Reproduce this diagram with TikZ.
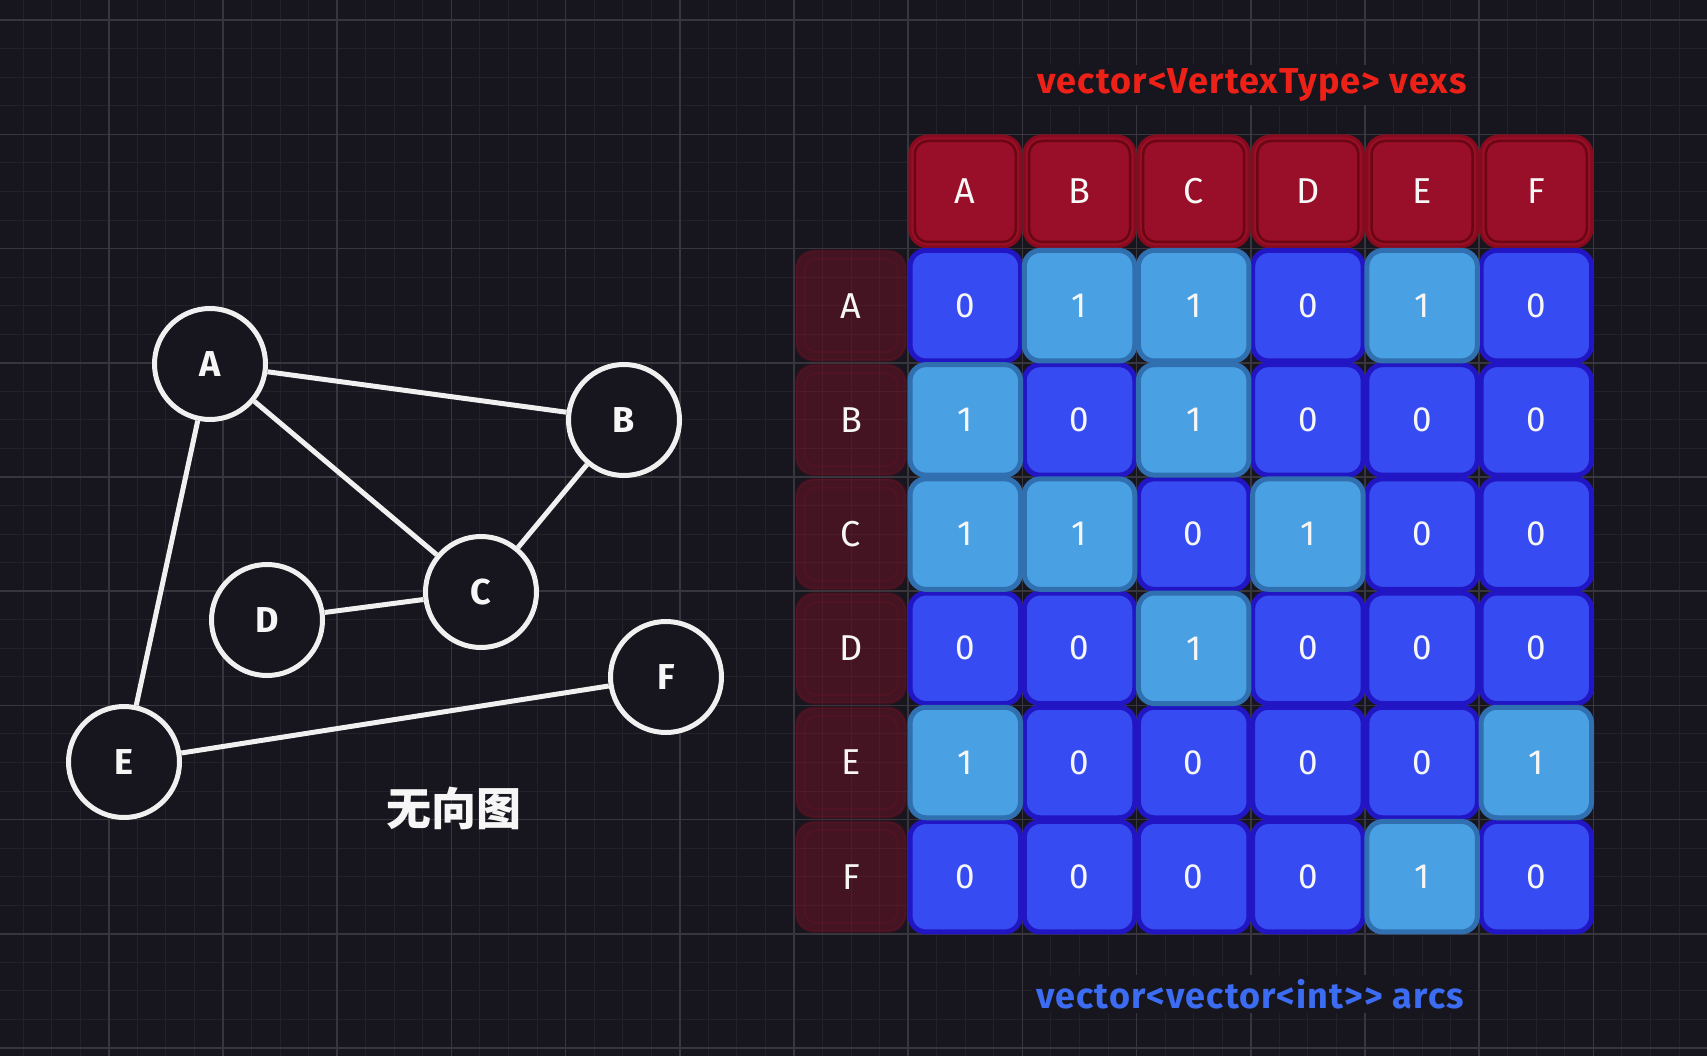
\documentclass[tikz,border=0pt]{standalone}
\usepackage{fontspec}
\setmainfont{Fira Sans}
\newfontfamily\cjk{Noto Sans CJK SC}
\newfontfamily\titlefont{Fira Sans}[LetterSpace=3]
\definecolor{bg}{HTML}{17151D}
\definecolor{minorgrid}{HTML}{232129}
\definecolor{majorgrid}{HTML}{38363D}
\definecolor{edgecol}{HTML}{F0F0F0}
\definecolor{txt}{HTML}{F6F6F6}
\definecolor{hdrfill}{HTML}{990E28}
\definecolor{hdrrim}{HTML}{860B1D}
\definecolor{hdrline}{HTML}{6A0712}
\definecolor{rowfill}{HTML}{C01230}
\definecolor{zerofill}{HTML}{364CF2}
\definecolor{zeroline}{HTML}{2216C4}
\definecolor{onefill}{HTML}{49A0E3}
\definecolor{oneline}{HTML}{3070B0}
\definecolor{redtitle}{HTML}{EE2118}
\definecolor{bluetitle}{HTML}{3B6CF2}
\begin{document}
\begin{tikzpicture}[x=1pt,y=-1pt,
  vertex/.style={circle,draw=edgecol,line width=5pt,fill=bg,minimum size=111pt,inner sep=0pt,
    text=txt,font=\bfseries\fontsize{36}{36}\selectfont},
  edge/.style={draw=edgecol,line width=5pt},
  hdrcell/.style={rectangle,rounded corners=18pt,draw=hdrrim,line width=3pt,fill=hdrfill,
    minimum size=111pt,inner sep=0pt,text=txt,font=\fontsize{36}{36}\selectfont},
  hdrinner/.style={draw=hdrline,line width=2.5pt,rounded corners=13pt},
  rowcell/.style={rectangle,rounded corners=18pt,draw=rowfill,draw opacity=0.12,line width=3pt,
    fill=rowfill,fill opacity=0.27,text opacity=1,minimum size=110pt,inner sep=0pt,text=txt,
    font=\fontsize{36}{36}\selectfont},
  rowinner/.style={draw=rowfill,draw opacity=0.1,line width=2pt,rounded corners=12pt},
  cell0/.style={rectangle,rounded corners=16pt,draw=zeroline,line width=5pt,fill=zerofill,
    minimum size=110.5pt,inner sep=0pt,text=txt,font=\fontsize{35}{35}\selectfont},
  cell1/.style={cell0,draw=oneline,fill=onefill},
  title/.style={fill=bg,inner xsep=4pt,inner ysep=4pt,font=\titlefont\bfseries\fontsize{36}{36}\selectfont}
]
\fill[bg] (0,0) rectangle (1707,1056);
\useasboundingbox (0,0) rectangle (1707,1056);
% grid
\foreach \i in {0,...,60}{
  \draw[minorgrid,line width=1pt] ({-5.4+28.55*\i},0) -- ++(0,1056);
}
\foreach \i in {0,...,37}{
  \draw[minorgrid,line width=1pt] (0,{20.2-28.55+28.55*\i}) -- ++(1707,0);
}
\foreach \i in {0,...,15}{
  \draw[majorgrid,line width=1.5pt] ({-5.4+114.2*\i},0) -- ++(0,1056);
}
\foreach \i in {0,...,9}{
  \draw[majorgrid,line width=1.5pt] (0,{20.2+114.2*\i}) -- ++(1707,0);
}
% graph
\node[vertex] (A) at (210,364) {A};
\node[vertex] (B) at (624,420) {B};
\node[vertex] (C) at (481,592) {C};
\node[vertex] (D) at (267,620) {D};
\node[vertex] (E) at (124,762) {E};
\node[vertex] (F) at (666,677) {F};
\draw[edge] (A) -- (B);
\draw[edge] (A) -- (C);
\draw[edge] (A) -- (E);
\draw[edge] (B) -- (C);
\draw[edge] (C) -- (D);
\draw[edge] (E) -- (F);
\node[text=txt,font=\cjk\bfseries\fontsize{45}{45}\selectfont] (gtitle) at (454,808) {无向图};
% titles
\node[title,text=redtitle] (vexs) at (1252,85) {vector<VertexType> vexs};
\node[title,text=bluetitle] (arcs) at (1250,994) {vector<vector<int>{}> arcs};
% header
\foreach \l [count=\c] in {A,B,C,D,E,F}{
  \node[hdrcell] (h-\c) at ({908.2+114.2*(\c-0.5)},191.5) {\l};
  \draw[hdrinner] ([shift={(6.5,6.5)}]h-\c.north west) rectangle ([shift={(-6.5,-6.5)}]h-\c.south east);
}
% row labels
\foreach \l [count=\r] in {A,B,C,D,E,F}{
  \node[rowcell] (r-\r) at (851,{248.6+114.2*(\r-0.5)}) {\l};
  \draw[rowinner] ([shift={(10,10)}]r-\r.north west) rectangle ([shift={(-10,-10)}]r-\r.south east);
}
% matrix: zeros first, then ones on top
\foreach \row [count=\r] in {{0,1,1,0,1,0},{1,0,1,0,0,0},{1,1,0,1,0,0},{0,0,1,0,0,0},{1,0,0,0,0,1},{0,0,0,0,1,0}}{
  \foreach \v [count=\c] in \row {
    \ifnum\v=0\relax
      \node[cell0] (m-\r-\c) at ({908.2+114.2*(\c-0.5)},{248.6+114.2*(\r-0.5)}) {0};
    \fi
  }
}
\foreach \row [count=\r] in {{0,1,1,0,1,0},{1,0,1,0,0,0},{1,1,0,1,0,0},{0,0,1,0,0,0},{1,0,0,0,0,1},{0,0,0,0,1,0}}{
  \foreach \v [count=\c] in \row {
    \ifnum\v=1\relax
      \node[cell1] (m-\r-\c) at ({908.2+114.2*(\c-0.5)},{248.6+114.2*(\r-0.5)}) {1};
    \fi
  }
}
\end{tikzpicture}
\end{document}
